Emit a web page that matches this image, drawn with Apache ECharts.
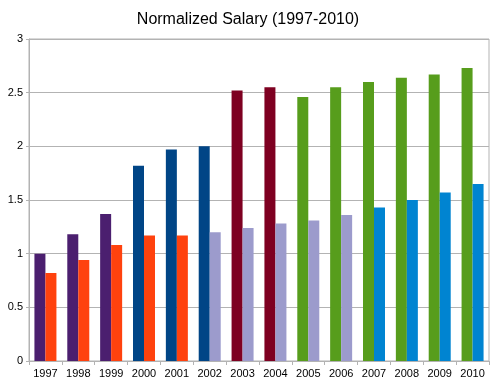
<!DOCTYPE html>
<html><head><meta charset="utf-8">
<script src="https://cdn.jsdelivr.net/npm/echarts@6/dist/echarts.min.js"></script>
<style>html,body{margin:0;padding:0;background:#fff}#c{width:496px;height:391px}</style>
</head><body><div id="c"></div>
<script>
var years = ['1997','1998','1999','2000','2001','2002','2003','2004','2005','2006','2007','2008','2009','2010'];
var seriesA = [1.00,1.18,1.37,1.82,1.97,2.00,2.52,2.55,2.46,2.55,2.60,2.64,2.67,2.73];
var seriesB = [0.82,0.94,1.08,1.17,1.17,1.20,1.24,1.28,1.31,1.36,1.43,1.50,1.57,1.65];
var colorsA = ['#4b1f6f','#4b1f6f','#4b1f6f','#004586','#004586','#004586','#7e0021','#7e0021','#579d1c','#579d1c','#579d1c','#579d1c','#579d1c','#579d1c'];
var colorsB = ['#ff420e','#ff420e','#ff420e','#ff420e','#ff420e','#9c9bcc','#9c9bcc','#9c9bcc','#9c9bcc','#9c9bcc','#0084d1','#0084d1','#0084d1','#0084d1'];
var yTicks = [0,0.5,1,1.5,2,2.5,3];

function items(vals, cols){return vals.map(function(v,i){return {value:v,itemStyle:{color:cols[i]}};});}

var chart = echarts.init(document.getElementById('c'));
chart.setOption({
  animation:false,
  title:{text:'Normalized Salary (1997-2010)',left:'center',top:7,
    textStyle:{fontFamily:'Liberation Sans',fontSize:16,fontWeight:'normal',color:'#000'}},
  grid:{left:29,right:7,top:39,bottom:30,show:true,borderColor:'#b3b3b3',borderWidth:1},
  xAxis:{type:'category',data:years,boundaryGap:true,
    axisLine:{lineStyle:{color:'#b3b3b3'}},
    axisTick:{show:true,length:4,lineStyle:{color:'#b3b3b3'}},
    axisLabel:{fontFamily:'Liberation Sans',fontSize:11,color:'#000',margin:7,interval:0}},
  yAxis:{type:'value',min:0,max:3,interval:0.5,
    axisLine:{show:true,lineStyle:{color:'#b3b3b3'}},
    axisTick:{show:true,length:3,lineStyle:{color:'#b3b3b3'}},
    splitLine:{lineStyle:{color:'#b3b3b3'}},
    axisLabel:{fontFamily:'Liberation Sans',fontSize:11,color:'#000',margin:6,
      formatter:function(v){return String(v);}}},
  series:[
    {type:'bar',data:items(seriesA,colorsA),barWidth:11,barGap:'0%'},
    {type:'bar',data:items(seriesB,colorsB),barWidth:11,barGap:'0%'}
  ]
});
</script></body></html>
